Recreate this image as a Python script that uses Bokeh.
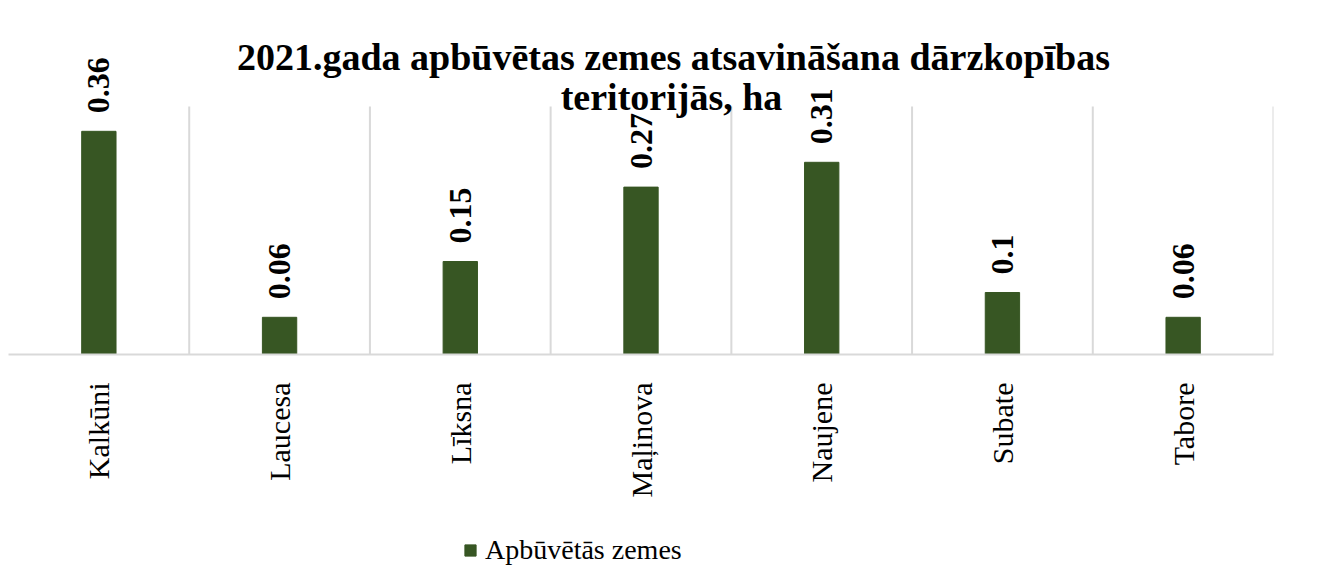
from math import pi
from bokeh.plotting import figure
from bokeh.layouts import column
from bokeh.models import ColumnDataSource, Label, Legend, LegendItem, Range1d
from bokeh.core.properties import value
from bokeh.embed import file_html
from bokeh.resources import INLINE

categories = ["Kalkūni", "Laucesa", "Līksna", "Maļinova", "Naujene", "Subate", "Tabore"]
values = [0.36, 0.06, 0.15, 0.27, 0.31, 0.10, 0.06]
labels = ["0.36", "0.06", "0.15", "0.27", "0.31", "0.1", "0.06"]
series_name = "Apbūvētās zemes"
title_lines = ["2021.gada apbūvētas zemes atsavināšana dārzkopības", "teritorijās, ha"]

GREEN = "#375623"
GRID = "#d9d9d9"
SERIF = "Liberation Serif"
Y_MAX = 0.4          # top of the gridlines
Y_VIEW = 0.571       # visible range extends above the gridlines for title/labels

src = ColumnDataSource(dict(cat=categories, val=values, lab=labels))

p = figure(x_range=categories, y_range=Range1d(0, Y_VIEW), width=1323, height=530,
           output_backend="svg", toolbar_location=None,
           min_border_left=8, min_border_right=50, min_border_top=0, min_border_bottom=176)
p.outline_line_color = None
p.background_fill_color = "white"
p.x_range.range_padding = 0
p.yaxis.visible = False
p.xgrid.visible = False
p.ygrid.visible = False

bounds = list(range(1, len(categories) + 1))
p.segment(x0=bounds, x1=bounds, y0=[0] * len(bounds), y1=[Y_MAX] * len(bounds),
          line_color=GRID, line_width=2)

r = p.vbar(x="cat", top="val", width=0.19, source=src, fill_color=GREEN, line_color=GREEN)

p.text(x="cat", y="val", text="lab", source=src, angle=pi / 2, y_offset=-18,
       text_align="left", text_baseline="middle", text_font=value(SERIF),
       text_font_style="bold", text_font_size="32px", text_color="#000000")

ax = p.xaxis[0]
ax.axis_line_color = GRID
ax.axis_line_width = 2
ax.major_tick_line_color = None
ax.minor_tick_line_color = None
ax.major_label_orientation = pi / 2
ax.major_label_text_font = SERIF
ax.major_label_text_font_size = "30px"
ax.major_label_text_color = "#000000"
ax.major_label_standoff = 22

p.add_layout(Label(x=665, y=298, x_units="screen", y_units="screen",
                   text=title_lines[0], text_align="center",
                   text_baseline="alphabetic", text_font=SERIF, text_font_style="bold",
                   text_font_size="38px", text_color="#000000"))
p.add_layout(Label(x=663, y=258, x_units="screen", y_units="screen",
                   text=title_lines[1], text_align="center",
                   text_baseline="alphabetic", text_font=SERIF, text_font_style="bold",
                   text_font_size="38px", text_color="#000000"))

# legend strip under the chart (same data, bars kept out of its view)
p2 = figure(width=1323, height=36, x_range=categories, y_range=Range1d(1, 2),
            output_backend="svg", toolbar_location=None, min_border=0)
p2.axis.visible = False
p2.grid.visible = False
p2.outline_line_color = None
r2 = p2.vbar(x="cat", top="val", width=0.19, source=src, fill_color=GREEN, line_color=GREEN)
legend = Legend(items=[LegendItem(label=series_name, renderers=[r2])], location=(455, 0),
                orientation="horizontal", label_text_font=SERIF, label_text_font_size="28px",
                label_text_color="#000000", glyph_width=14, glyph_height=14,
                border_line_color=None, background_fill_alpha=0, padding=2, margin=0,
                label_standoff=8)
p2.add_layout(legend)

open("out.html", "w").write(file_html(column(p, p2, spacing=0), INLINE))
